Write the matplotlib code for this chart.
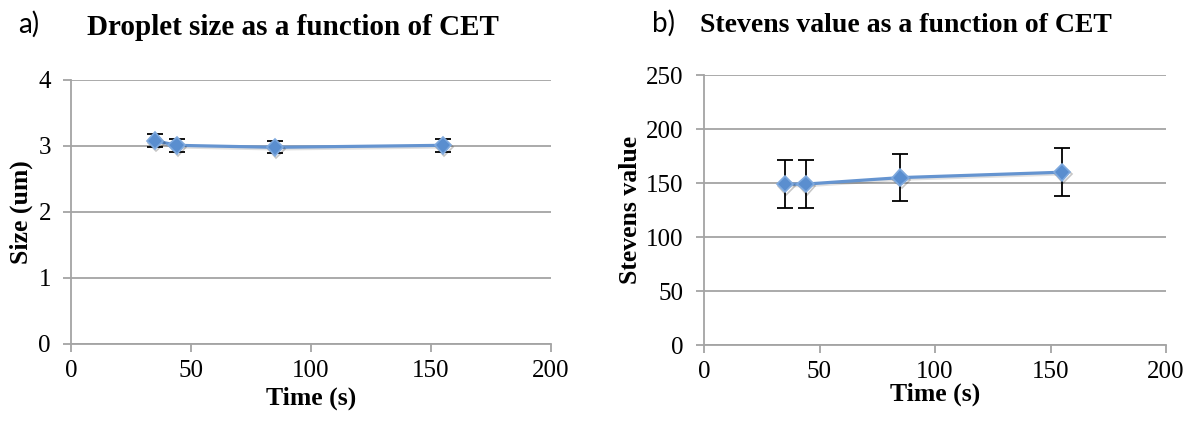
import matplotlib
matplotlib.use("Agg")
import matplotlib.pyplot as plt
import matplotlib.patheffects as pe

# CET time points (s)
time_s = [35, 44, 85, 155]

# panel a: droplet size (um) with error
droplet_size = [3.08, 3.01, 2.98, 3.01]
droplet_err = [0.10, 0.10, 0.09, 0.10]

# panel b: Stevens value with error
stevens_value = [149, 149, 155, 160]
stevens_err = [22, 22, 22, 22]

SERIF = ["Liberation Serif", "DejaVu Serif"]
SANS = ["Lato", "DejaVu Sans"]
LINE_BLUE = "#6594d0"
MARK_BLUE = "#5a8ecf"
GRID_GRAY = "#a4a4a4"


def style_axes(ax, yticks):
    ax.set_xlim(0, 200)
    ax.set_ylim(yticks[0], yticks[-1])
    ax.set_xticks([0, 50, 100, 150, 200])
    ax.set_yticks(yticks)
    ax.grid(axis="y", color=GRID_GRAY, linewidth=1.3)
    ax.set_axisbelow(True)
    for side in ("top", "right"):
        ax.spines[side].set_visible(False)
    for side in ("left", "bottom"):
        ax.spines[side].set_color(GRID_GRAY)
        ax.spines[side].set_linewidth(1.3)
    ax.tick_params(axis="both", direction="out", length=5.5, width=1.3,
                   color=GRID_GRAY, labelsize=18)
    ax.tick_params(axis="y", pad=9)
    ax.tick_params(axis="x", pad=6)
    for lab in ax.get_xticklabels() + ax.get_yticklabels():
        lab.set_family(SERIF)


def draw_series(ax, x, y, err):
    ax.errorbar(x, y, yerr=err, fmt="none", ecolor="black",
                elinewidth=1.3, capsize=6, capthick=1.3, zorder=3)
    soft = [pe.SimpleLineShadow(offset=(0.8, -1.2), shadow_color="black", alpha=0.12),
            pe.Normal()]
    ax.plot(x, y, color=LINE_BLUE, linewidth=2.3, zorder=4, path_effects=soft)
    blob = [pe.SimpleLineShadow(offset=(1.0, -1.5), shadow_color="black", alpha=0.22),
            pe.Normal()]
    ax.plot(x, y, linestyle="none", marker="D", markersize=8.5,
            markerfacecolor=MARK_BLUE, markeredgecolor="#80aade",
            markeredgewidth=1.2, zorder=5, path_effects=blob)


fig = plt.figure(figsize=(11.92, 4.25), dpi=100)

ax_a = fig.add_axes([0.0596, 0.1906, 0.4027, 0.6212])
draw_series(ax_a, time_s, droplet_size, droplet_err)
style_axes(ax_a, [0, 1, 2, 3, 4])
ax_a.set_xlabel("Time (s)", family=SERIF, fontsize=18.5, fontweight="bold", labelpad=3)
ax_a.set_ylabel("Size (um)", family=SERIF, fontsize=18.5, fontweight="bold", labelpad=4)

ax_b = fig.add_axes([0.5906, 0.1882, 0.3876, 0.6353])
draw_series(ax_b, time_s, stevens_value, stevens_err)
style_axes(ax_b, [0, 50, 100, 150, 200, 250])
ax_b.set_xlabel("Time (s)", family=SERIF, fontsize=18.5, fontweight="bold", labelpad=0)
ax_b.set_ylabel("Stevens value", family=SERIF, fontsize=18.5, fontweight="bold", labelpad=3)

fig.text(18 / 1192, 0.922, "a)", family=SANS, fontsize=20, va="baseline")
fig.text(87 / 1192, 0.918, "Droplet size as a function of CET", family=SERIF,
         fontsize=21, fontweight="bold", va="baseline")
fig.text(652 / 1192, 0.925, "b)", family=SANS, fontsize=20, va="baseline")
fig.text(700 / 1192, 0.925, "Stevens value as a function of CET", family=SERIF,
         fontsize=20, fontweight="bold", va="baseline")

fig.savefig("out.png", dpi=100)
